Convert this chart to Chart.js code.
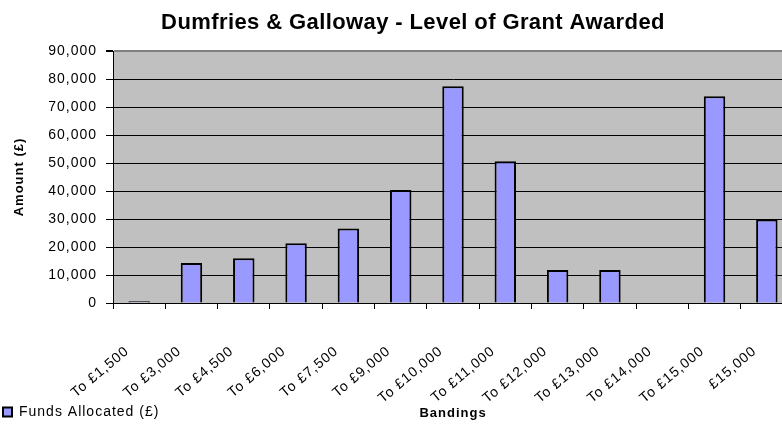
<!DOCTYPE html>
<html>
<head>
<meta charset="utf-8">
<title>Dumfries &amp; Galloway - Level of Grant Awarded</title>
<script src="https://cdn.jsdelivr.net/npm/chart.js@4/dist/chart.umd.min.js"></script>
<style>
    html, body {
        margin: 0;
        padding: 0;
        background: #ffffff;
        overflow: hidden;
    }
    #wrap {
        width: 782px;
        height: 432px;
        overflow: hidden;
    }
</style>
</head>
<body>
<div id="wrap">
    <canvas id="chart" width="793" height="432"></canvas>
</div>
<script>
const bandings = ['To £1,500', 'To £3,000', 'To £4,500', 'To £6,000', 'To £7,500', 'To £9,000',
    'To £10,000', 'To £11,000', 'To £12,000', 'To £13,000', 'To £14,000', 'To £15,000', '£15,000'];
const fundsAllocated = [600, 14300, 16000, 21300, 26600, 40400, 77400, 50600, 11800, 11800, 0, 73800, 29800];
const amountTicks = [0, 10000, 20000, 30000, 40000, 50000, 60000, 70000, 80000, 90000];

const chartTitle = 'Dumfries & Galloway - Level of Grant Awarded';
const FONT = '"Liberation Sans", Arial, sans-serif';
const SPACING = '1px';

// excel-ish look: grey plot area, a little letter spacing, title drawn by hand
const excelLook = {
    id: 'excelLook',
    beforeUpdate(chart) {
        chart.ctx.letterSpacing = SPACING;
    },
    beforeDraw(chart) {
        const { ctx, chartArea } = chart;
        ctx.save();
        ctx.fillStyle = '#c0c0c0';
        ctx.fillRect(chartArea.left, chartArea.top, chartArea.right - chartArea.left, chartArea.bottom - chartArea.top);
        ctx.restore();
        ctx.letterSpacing = SPACING;
    },
    afterDraw(chart) {
        const ctx = chart.ctx;
        ctx.save();
        ctx.letterSpacing = '0.4px';
        ctx.font = 'bold 22px ' + FONT;
        ctx.fillStyle = '#000';
        ctx.textAlign = 'center';
        ctx.textBaseline = 'alphabetic';
        ctx.fillText(chartTitle, 413, 29);
        ctx.restore();
    }
};

const ctx = document.getElementById('chart').getContext('2d');
const chart = new Chart(ctx, {
    type: 'bar',
    data: {
        labels: bandings,
        datasets: [{
            label: 'Funds Allocated (£)',
            data: fundsAllocated,
            backgroundColor: '#9999ff',
            borderColor: '#000000',
            borderWidth: 2,
            barPercentage: 0.41,
            categoryPercentage: 1
        }]
    },
    options: {
        responsive: false,
        devicePixelRatio: 1,
        animation: false,
        layout: {
            padding: { top: 51, left: 0, right: 0, bottom: 3 }
        },
        plugins: {
            title: { display: false },
            tooltip: { enabled: false },
            legend: {
                position: 'bottom',
                align: 'start',
                labels: {
                    boxWidth: 9,
                    boxHeight: 9,
                    padding: 3,
                    color: '#000',
                    font: { family: FONT, size: 14 }
                }
            }
        },
        scales: {
            x: {
                offset: true,
                grid: {
                    offset: true,
                    drawOnChartArea: false,
                    tickLength: 6,
                    color: '#000'
                },
                border: { color: '#000', width: 1 },
                ticks: {
                    autoSkip: false,
                    minRotation: 40,
                    maxRotation: 40,
                    padding: 34,
                    labelOffset: -12,
                    color: '#000',
                    font: { family: FONT, size: 14 }
                },
                title: {
                    display: true,
                    text: 'Bandings',
                    color: '#000',
                    font: { family: FONT, size: 13, weight: 'bold' },
                    padding: { top: 0, bottom: -19 }
                },
                afterFit(scale) {
                    scale.height = 432 - 303 - 3 - scale.chart.legend.height;
                    scale.paddingLeft = 0;
                    scale.paddingRight = 0;
                }
            },
            y: {
                min: 0,
                max: 90000,
                afterBuildTicks(scale) {
                    scale.ticks = amountTicks.map(v => ({ value: v }));
                },
                grid: {
                    color: c => (c.tick && c.tick.value === 90000 ? '#808080' : '#000'),
                    lineWidth: c => (c.tick && c.tick.value === 90000 ? 2 : 1),
                    tickColor: '#000',
                    tickLength: 7
                },
                border: { color: '#000', width: 1 },
                ticks: {
                    padding: 9,
                    color: '#000',
                    font: { family: FONT, size: 14 },
                    callback: v => v.toLocaleString('en-GB')
                },
                title: {
                    display: true,
                    text: 'Amount (£)',
                    color: '#000',
                    font: { family: FONT, size: 13, weight: 'bold' },
                    padding: { top: 12, bottom: 0 }
                },
                afterFit(scale) {
                    scale.width = 113;
                }
            }
        }
    },
    plugins: [excelLook]
});
</script>
</body>
</html>
